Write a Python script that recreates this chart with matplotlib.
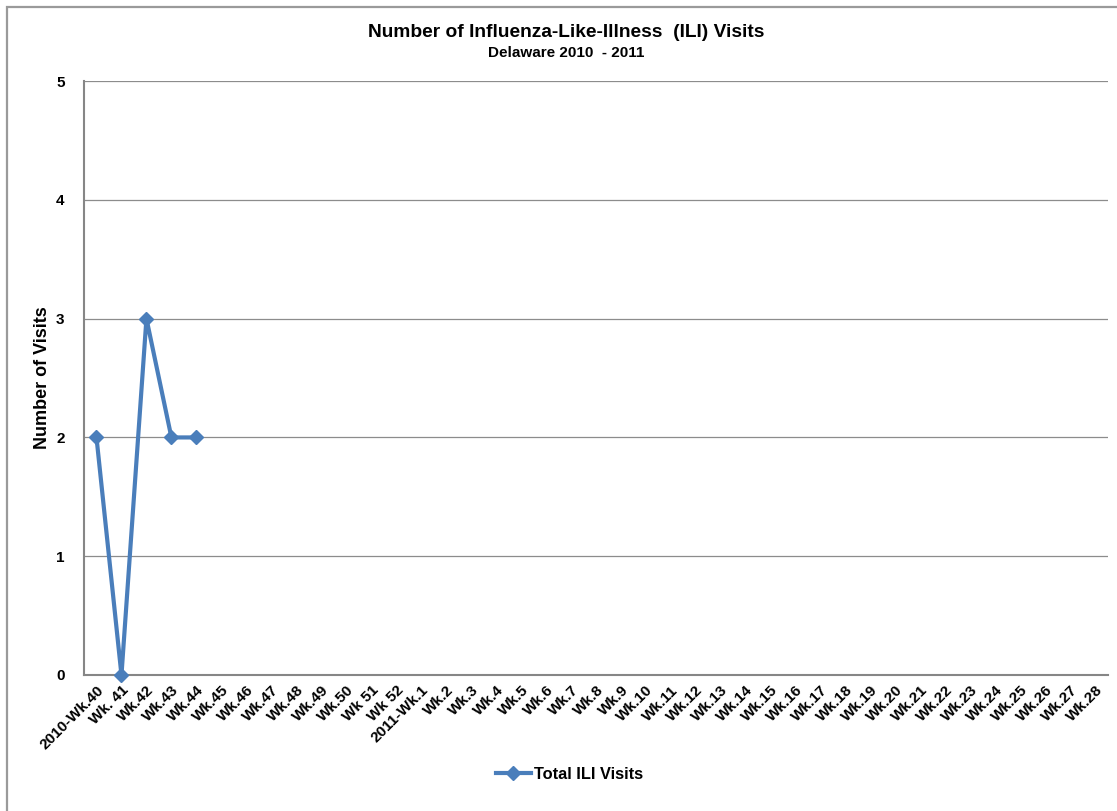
import matplotlib
matplotlib.use("Agg")
import matplotlib.pyplot as plt
from matplotlib.patches import Rectangle

plt.rcParams['font.family'] = ['Liberation Sans', 'DejaVu Sans']
plt.rcParams['font.weight'] = 'bold'

# week labels for the 2010-2011 season
weeks = (["2010-Wk.40", "Wk. 41", "Wk.42", "Wk.43", "Wk.44", "Wk.45", "Wk.46",
          "Wk.47", "Wk.48", "Wk.49", "Wk.50", "Wk 51", "Wk 52", "2011-Wk.1"]
         + ["Wk." + str(i) for i in range(2, 29)])
visits = [2, 0, 3, 2, 2]

fig = plt.figure(figsize=(11.17, 8.11), dpi=100)
ax = fig.add_axes([0.0752, 0.1677, 0.9168, 0.7323])

# outer chart border (only top and left edges show in the picture)
fig.patches.append(Rectangle((0.0063, -0.1), 1.2, 1.0914,
                             transform=fig.transFigure, fill=False,
                             edgecolor="#9a9a9a", linewidth=1.6))

ax.plot(range(len(visits)), visits, color="#4a7ebb", linewidth=3,
        marker="D", markersize=7.5, label="Total ILI Visits", clip_on=False,
        zorder=5)

ax.set_xlim(-0.5, len(weeks) - 0.5)
ax.set_ylim(0, 5)
ax.set_yticks(range(6))
ax.set_xticks(range(len(weeks)))
ax.set_xticklabels(weeks, rotation=45, ha="right", rotation_mode="anchor")
ax.tick_params(axis="both", length=0, labelsize=11)
ax.tick_params(axis="y", pad=14)
ax.tick_params(axis="x", pad=6)
ax.grid(axis="y", color="#8c8c8c", linewidth=0.9)
ax.set_axisbelow(True)
for s in ["top", "right"]:
    ax.spines[s].set_visible(False)
for s in ["left", "bottom"]:
    ax.spines[s].set_color("#868686")
    ax.spines[s].set_linewidth(1.5)

ax.set_ylabel("Number of Visits", fontsize=13, fontweight="bold")
ax.yaxis.set_label_coords(-0.032, 0.5)

fig.text(0.507, 0.9605, "Number of Influenza-Like-Illness  (ILI) Visits",
         ha="center", va="center", fontsize=13.8, fontweight="bold")
fig.text(0.507, 0.9346, "Delaware 2010  - 2011", ha="center", va="center",
         fontsize=11, fontweight="bold")

fig.legend(loc="center", bbox_to_anchor=(0.51, 0.045), frameon=False,
           handlelength=2.1, handletextpad=0.2,
           prop={"weight": "bold", "size": 11.8})

fig.savefig("out.png", dpi=100)
